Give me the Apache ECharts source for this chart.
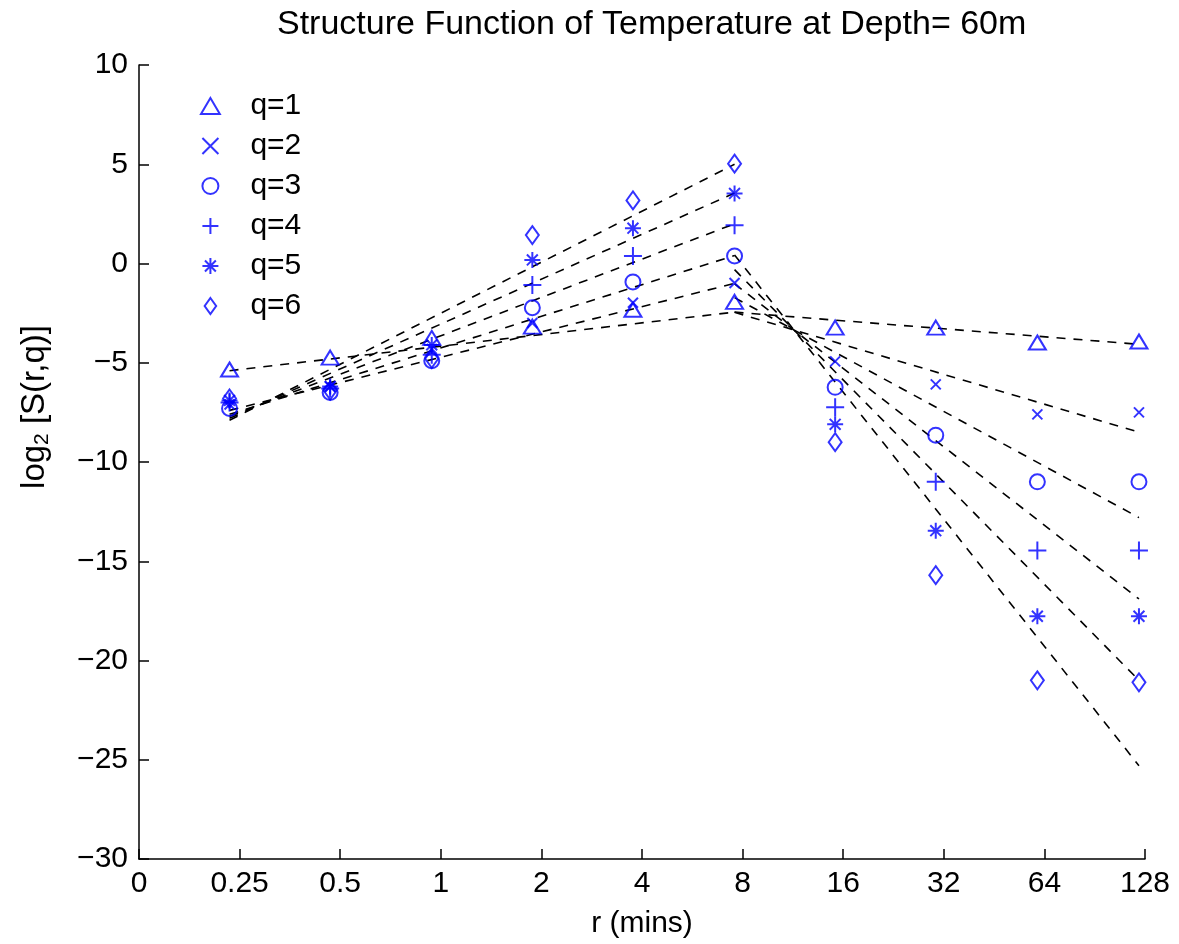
<!DOCTYPE html>
<html>
<head>
<meta charset="utf-8">
<script src="https://cdn.jsdelivr.net/npm/echarts@6/dist/echarts.min.js"></script>
<style>
html,body{margin:0;padding:0;background:#fff;}
#main{width:1179px;height:944px;}
</style>
</head>
<body>
<div id="main"></div>
<script>
// x tick labels (log2 spaced positions -3..7)
const xTickLabels = ['0','0.25','0.5','1','2','4','8','16','32','64','128'];
// log2(r) of the measured lags
const logR = [-2.1, -1.1, -0.09, 0.91, 1.91, 2.92, 3.92, 4.92, 5.93, 6.94];
// log2 S(r,q) values for q = 1..6
const q1 = [-5.34, -4.74, -3.75, -3.18, -2.33, -1.93, -3.23, -3.23, -3.98, -3.93];
const q2 = [-7.1, -6.2, -4.3, -3.0, -1.98, -0.98, -4.93, -6.09, -7.6, -7.5];
const q3 = [-7.3, -6.5, -4.9, -2.23, -0.93, 0.38, -6.24, -8.65, -11.0, -11.0];
const q4 = [-7.0, -6.3, -4.6, -1.08, 0.38, 1.93, -7.24, -11.0, -14.46, -14.46];
const q5 = [-6.9, -6.2, -4.1, 0.18, 1.78, 3.53, -8.1, -13.46, -17.77, -17.77];
const q6 = [-6.8, -6.4, -4.8, 1.43, 3.18, 5.03, -9.0, -15.7, -21.0, -21.1];
// fitted line end values (left fit: 0.25..8, right fit: 8..128)
const leftFitStart = [-5.4, -7.4, -7.6, -7.7, -7.8, -7.9];
const leftFitEnd = [-2.45, -1.0, 0.4, 2.0, 3.55, 5.0];
const rightFitStart = [-2.45, -2.46, -1.72, -1.02, -0.31, 0.43];
const rightFitEnd = [-4.07, -8.5, -12.8, -16.9, -21.0, -25.3];
const seriesNames = ['q=1','q=2','q=3','q=4','q=5','q=6'];

const qData = [q1,q2,q3,q4,q5,q6];
const BLUE = '#0000ff';
const FONT = 'Liberation Sans';
const symbols = [
  {symbol:'path://M5,0L10,8.5L0,8.5Z', size:[17,14]},
  {symbol:'path://M0,0L10,10M10,0L0,10', size:10},
  {symbol:'circle', size:15},
  {symbol:'path://M5,0L5,10M0,5L10,5', size:18},
  {symbol:'path://M5,0L5,10M0,5L10,5M1.6,1.6L8.4,8.4M8.4,1.6L1.6,8.4', size:16},
  {symbol:'path://M3.6,0L7.2,5L3.6,10L0,5Z', size:[13,18]}
];

const series = [];
qData.forEach((arr, i) => {
  series.push({
    name: seriesNames[i],
    type: 'scatter',
    data: arr.map((v, k) => [logR[k], v]),
    symbol: symbols[i].symbol,
    symbolSize: symbols[i].size,
    itemStyle: {color: 'rgba(255,255,255,0)', borderColor: BLUE, borderWidth: 2},
    z: 3
  });
});
for (let i = 0; i < 6; i++) {
  series.push({
    type: 'line', showSymbol: false, symbol: 'none', silent: true,
    data: [[logR[0], leftFitStart[i]], [logR[5], leftFitEnd[i]]],
    lineStyle: {color: '#000', width: 1.6, type: [9, 8]}, z: 2
  });
  series.push({
    type: 'line', showSymbol: false, symbol: 'none', silent: true,
    data: [[logR[5], rightFitStart[i]], [logR[9], rightFitEnd[i]]],
    lineStyle: {color: '#000', width: 1.6, type: [9, 8]}, z: 2
  });
}

const chart = echarts.init(document.getElementById('main'));
chart.setOption({
  backgroundColor: '#fff',
  animation: false,
  textStyle: {fontFamily: FONT},
  title: {
    text: 'Structure Function of Temperature at Depth= 60m',
    left: 272, top: 3,
    textStyle: {fontFamily: FONT, fontSize: 34, fontWeight: 'normal', color: '#000'}
  },
  legend: {
    data: seriesNames,
    orient: 'vertical',
    left: 195, top: 86,
    itemWidth: 70, itemHeight: 16, itemGap: 10,
    symbolKeepAspect: true,
    textStyle: {fontFamily: FONT, fontSize: 30, color: '#000', lineHeight: 30}
  },
  grid: {left: 139, right: 34, top: 65, bottom: 82},
  xAxis: {
    type: 'value', min: -3, max: 7, interval: 1,
    name: 'r (mins)', nameLocation: 'middle', nameGap: 50,
    nameTextStyle: {fontFamily: FONT, fontSize: 30, color: '#000'},
    axisLine: {onZero: false, lineStyle: {color: '#000', width: 1.5}},
    axisTick: {inside: true, length: 10, lineStyle: {color: '#000', width: 1.5}},
    axisLabel: {
      fontFamily: FONT, fontSize: 30, color: '#000', margin: 10,
      formatter: v => xTickLabels[Math.round(v) + 3]
    },
    splitLine: {show: false}
  },
  yAxis: {
    type: 'value', min: -30, max: 10, interval: 5,
    name: 'log{sub|2} [S(r,q)]', nameLocation: 'middle', nameGap: 86, nameRotate: 90,
    nameTextStyle: {fontFamily: FONT, fontSize: 33, color: '#000', padding: [0,0,0,110],
      rich: {sub: {fontFamily: FONT, fontSize: 21, color: '#000', verticalAlign: 'bottom', padding: [16,0,0,0]}}},
    axisLine: {onZero: false, lineStyle: {color: '#000', width: 1.5}},
    axisTick: {inside: true, length: 10, lineStyle: {color: '#000', width: 1.5}},
    axisLabel: {
      fontFamily: FONT, fontSize: 30, color: '#000', margin: 11,
      formatter: v => (v < 0 ? '\u2212' + Math.abs(v) : String(v))
    },
    splitLine: {show: false}
  },
  series: series
});
</script>
</body>
</html>
